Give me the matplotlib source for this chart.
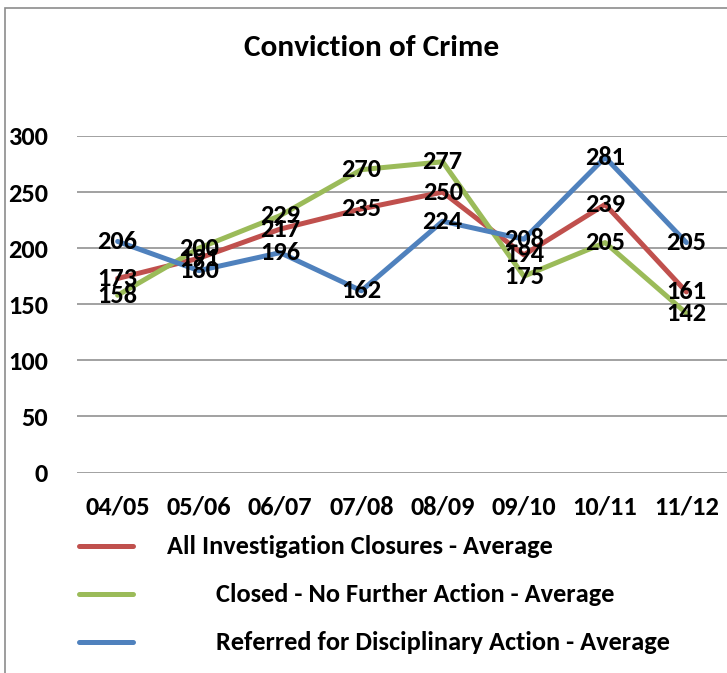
import matplotlib
matplotlib.use('agg')
import matplotlib.pyplot as plt
from matplotlib.lines import Line2D
from matplotlib.patches import Rectangle

plt.rcParams['font.family'] = ['Carlito', 'DejaVu Sans']
plt.rcParams['font.weight'] = 'bold'

# data
years = ['04/05', '05/06', '06/07', '07/08', '08/09', '09/10', '10/11', '11/12']
all_closures = [173, 191, 217, 235, 250, 194, 239, 161]
closed_nfa = [158, 200, 229, 270, 277, 175, 205, 142]
referred = [206, 180, 196, 162, 224, 208, 281, 205]
series_names = ['All Investigation Closures - Average',
                'Closed - No Further Action - Average',
                'Referred for Disciplinary Action - Average']
colours = ['#C0504D', '#9BBB59', '#4F81BD']

W, H = 727, 673
fig = plt.figure(figsize=(W / 100, H / 100), dpi=100)

# outer chart frame (only left and top edges are visible in the original)
fig.add_artist(Rectangle((5 / W, -0.1), 1.2, 1 - 8 / H + 0.1, transform=fig.transFigure,
                         fill=False, edgecolor='#8C8C8C', linewidth=1.2))

ax = fig.add_axes([77 / W, 1 - 472.5 / H, 1 - 77 / W, (472.5 - 136) / H])
x = list(range(len(years)))

for vals, c in zip([all_closures, closed_nfa, referred], colours):
    ax.plot(x, vals, color=c, linewidth=3.6, solid_capstyle='round', zorder=3)

for vals in [all_closures, closed_nfa, referred]:
    for i, v in enumerate(vals):
        ax.text(i, v, str(v), ha='center', va='center', fontsize=19, fontweight='bold',
                zorder=5, clip_on=False)

ax.set_xlim(-0.5, len(years) - 0.5)
ax.set_ylim(0, 300)
ax.set_yticks(range(0, 301, 50))
ax.set_xticks(x)
ax.set_xticklabels(years)
ax.grid(axis='y', color='#878787', linewidth=1.1, zorder=0)
for s in ax.spines.values():
    s.set_visible(False)
ax.tick_params(axis='both', length=0, labelsize=19)
ax.tick_params(axis='y', pad=21)
ax.tick_params(axis='x', pad=16.5)
for lab in ax.get_xticklabels() + ax.get_yticklabels():
    lab.set_fontweight('bold')

fig.text(372 / W, 1 - 56 / H, 'Conviction of Crime', ha='center', va='baseline',
         fontsize=22.5, fontweight='bold')

# legend, laid out like the original
legend_y = [546, 594, 642]
text_x = [167, 216, 216]
for name, c, ly, tx in zip(series_names, colours, legend_y, text_x):
    fig.add_artist(Line2D([79 / W, 133 / W], [1 - ly / H, 1 - ly / H], transform=fig.transFigure,
                          color=c, linewidth=3.6, solid_capstyle='round'))
    fig.text(tx / W, 1 - ly / H, name, ha='left', va='center', fontsize=19, fontweight='bold')

fig.savefig('out.png', dpi=100)
